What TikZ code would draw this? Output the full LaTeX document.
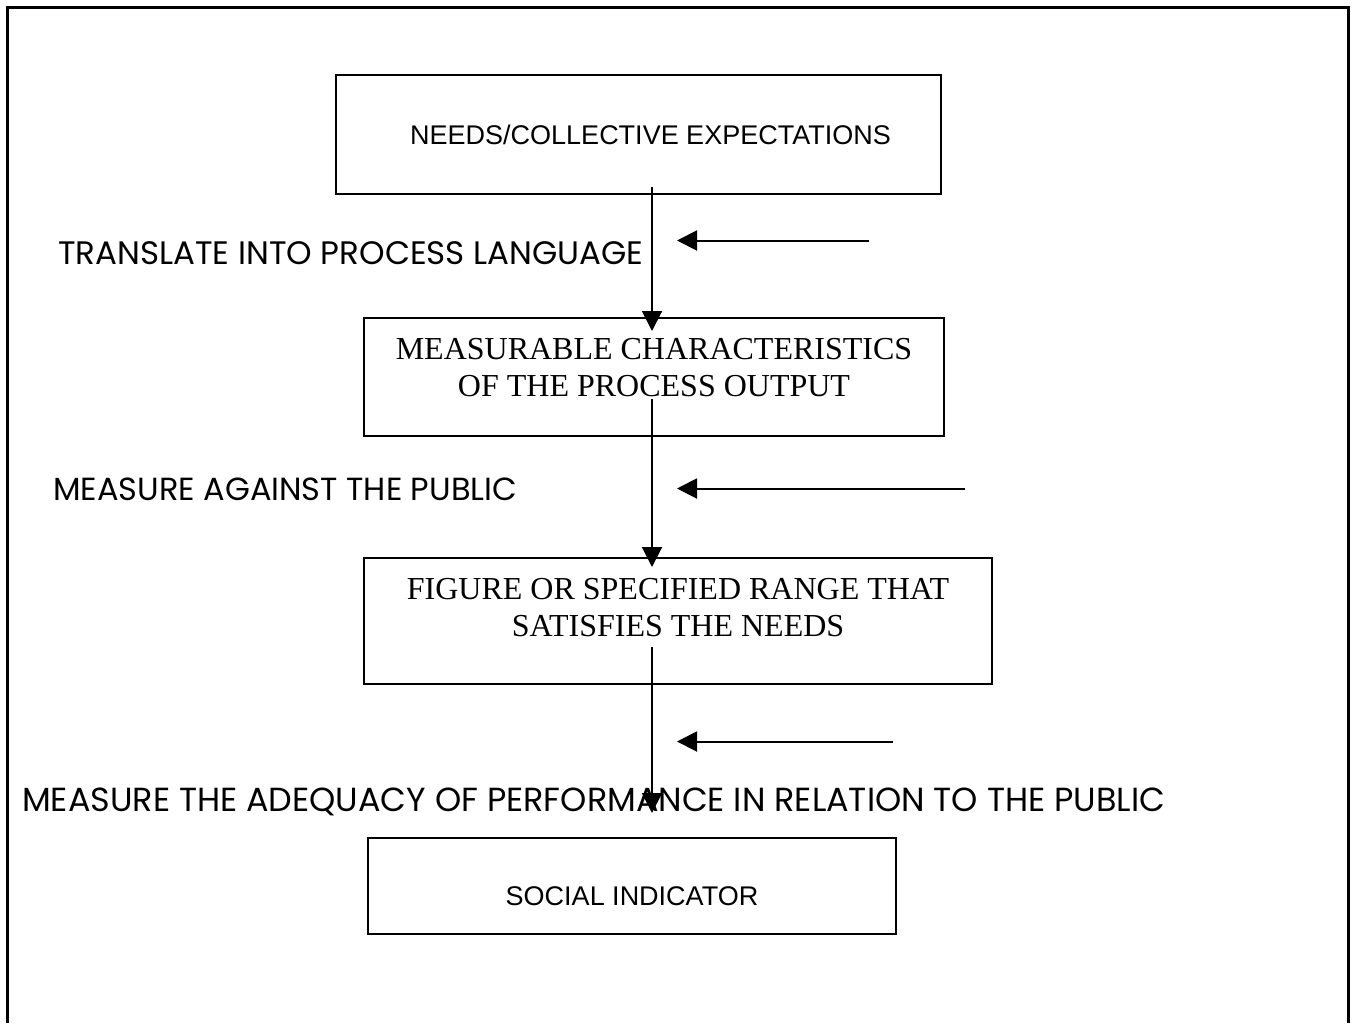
\documentclass[tikz,border=0pt]{standalone}
\usepackage{fontspec}
\setmainfont{Liberation Serif}
\newfontfamily\arialf{Liberation Sans}
\newfontfamily\gothicf{Poppins}
\usetikzlibrary{arrows.meta}
\tikzset{
  box/.style={draw, line width=2pt, inner sep=0pt, align=center},
  sansbox/.style={box, font=\arialf\fontsize{27}{32}\selectfont},
  serifbox/.style={box, font=\fontsize{32}{36.5}\selectfont},
  lbl/.style={anchor=base west, inner sep=0pt, font=\gothicf\fontsize{32.5}{36}\selectfont},
  arr/.style={line width=2pt, -{Triangle[length=20pt,width=20pt]}},
  frame/.style={line width=3pt}
}
\begin{document}
\begin{tikzpicture}[x=1pt,y=-1pt]
\useasboundingbox (0,0) rectangle (1354,1023);
\coordinate (f1) at (7,1023);
\coordinate (f2) at (7,7);
\coordinate (f3) at (1348,7);
\coordinate (f4) at (1348,1023);
\draw[frame] (f1) -- (f2) -- (f3) -- (f4);

\node[box, minimum width=605pt, minimum height=119pt,
      label={[font=\arialf\fontsize{27}{32}\selectfont, xshift=12pt]center:NEEDS/COLLECTIVE EXPECTATIONS}] (b1) at (638.5,134.5) {};
\node[serifbox, minimum width=580pt, minimum height=118pt, text height=38pt, text depth=0pt] (b2) at (654,377) {MEASURABLE CHARACTERISTICS\\ OF THE PROCESS OUTPUT};
\node[serifbox, minimum width=628pt, minimum height=126pt, text height=30pt, text depth=0pt] (b3) at (678,621) {FIGURE OR SPECIFIED RANGE THAT\\ SATISFIES THE NEEDS};
\node[sansbox, minimum width=528pt, minimum height=96pt, text height=38pt, text depth=0pt] (b4) at (632,886) {SOCIAL INDICATOR};

\node[lbl] (l1) at (58,264) {TRANSLATE INTO PROCESS LANGUAGE};
\node[lbl, font=\gothicf\fontsize{32}{36}\selectfont] (l2) at (53,500) {MEASURE AGAINST THE PUBLIC};
\node[lbl, font=\gothicf\fontsize{33.4}{36}\selectfont] (l3) at (22,811) {MEASURE THE ADEQUACY OF PERFORMANCE IN RELATION TO THE PUBLIC};

\coordinate (v1s) at (652,187);
\coordinate (v1e) at (652,331);
\coordinate (v2s) at (652,399);
\coordinate (v2e) at (652,567);
\coordinate (v3s) at (652,647);
\coordinate (v3e) at (652,813);
\coordinate (h1s) at (869,240.5);
\coordinate (h1e) at (677,240.5);
\coordinate (h2s) at (965,488.5);
\coordinate (h2e) at (677,488.5);
\coordinate (h3s) at (893,741.5);
\coordinate (h3e) at (677,741.5);

\draw[arr] (v1s) -- (v1e);
\draw[arr] (v2s) -- (v2e);
\draw[arr] (v3s) -- (v3e);
\draw[arr] (h1s) -- (h1e);
\draw[arr] (h2s) -- (h2e);
\draw[arr] (h3s) -- (h3e);
\end{tikzpicture}
\end{document}
